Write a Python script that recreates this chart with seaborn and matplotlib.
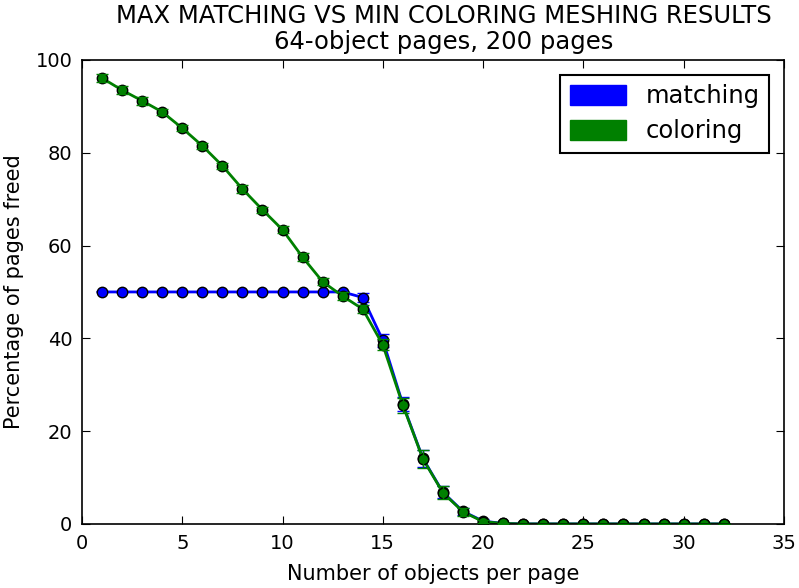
import numpy as np
import pandas as pd
import matplotlib
matplotlib.use("Agg")
import matplotlib.pyplot as plt
import matplotlib.patches as mpatches
import seaborn as sns

# objects per page
objects = list(range(1, 33))

# percentage of pages freed, max matching
matching = [50.0] * 13 + [48.8, 39.6, 25.8, 14.1, 6.8, 2.7, 0.6, 0.1] + [0.0] * 11
matching_err = [0.1] * 13 + [0.9, 1.4, 1.5, 1.8, 1.3, 0.8, 0.4, 0.1] + [0.0] * 11

# percentage of pages freed, min coloring
coloring = [96.1, 93.5, 91.2, 88.8, 85.3, 81.5, 77.2, 72.2, 67.7, 63.4, 57.5, 52.2,
            49.1, 46.3, 38.6, 25.6, 14.0, 6.7, 2.6, 0.5, 0.1] + [0.0] * 11
coloring_err = [0.8, 0.8, 0.8, 0.6, 0.6, 0.7, 0.7, 0.8, 0.7, 0.8, 0.8, 0.7,
                0.8, 0.9, 1.2, 1.6, 2.0, 1.4, 0.8, 0.4, 0.1] + [0.0] * 11

blue = (0.0, 0.0, 1.0)
green = (0.0, 0.5, 0.0)

sns.set_style("ticks", {"xtick.direction": "in", "ytick.direction": "in"})
plt.rcParams["font.family"] = ["DejaVu Sans"]
plt.rcParams["text.color"] = "black"
plt.rcParams["axes.labelcolor"] = "black"
plt.rcParams["xtick.color"] = "black"
plt.rcParams["ytick.color"] = "black"

df = pd.DataFrame({
    "objects": objects * 2,
    "freed": matching + coloring,
    "kind": ["matching"] * len(objects) + ["coloring"] * len(objects),
})

fig = plt.figure(figsize=(7.99, 5.88), dpi=100)
ax = fig.add_axes([0.1026, 0.109, 0.8785, 0.789])

ax.errorbar(objects, matching, yerr=matching_err, fmt="none", ecolor=blue,
            capsize=4.5, elinewidth=1, capthick=1, zorder=2)
ax.errorbar(objects, coloring, yerr=coloring_err, fmt="none", ecolor=green,
            capsize=4.5, elinewidth=1, capthick=1, zorder=4)
sns.lineplot(data=df, x="objects", y="freed", hue="kind",
             palette={"matching": blue, "coloring": green},
             marker="o", markersize=7.5, markeredgecolor="black", markeredgewidth=1,
             linewidth=2, legend=False, ax=ax)

ax.set_xlim(0, 35)
ax.set_ylim(0, 100)
ax.set_xticks(range(0, 36, 5))
ax.set_yticks(range(0, 101, 20))
ax.tick_params(labelsize=14, length=6, top=True, right=True)
ax.tick_params(axis="x", pad=7)
ax.tick_params(axis="y", pad=7)
for s in ax.spines.values():
    s.set_linewidth(1.2)
    s.set_color("black")

ax.set_xlabel("Number of objects per page", fontsize=15, labelpad=8)
ax.set_ylabel("Percentage of pages freed", fontsize=15, labelpad=8)
ax.set_title("MAX MATCHING VS MIN COLORING MESHING RESULTS\n64-object pages, 200 pages",
             fontsize=17.5, linespacing=1.1, pad=8, x=0.516)

handles = [mpatches.Patch(color=blue, label="matching"),
           mpatches.Patch(color=green, label="coloring")]
leg = ax.legend(handles=handles, loc="upper right", fontsize=17.5, fancybox=False,
                edgecolor="black", framealpha=1, handlelength=2.3, handleheight=0.9,
                borderpad=0.4, labelspacing=0.45, handletextpad=0.8,
                borderaxespad=0.6)
leg.get_frame().set_linewidth(1.5)

fig.savefig("out.png", dpi=100)
